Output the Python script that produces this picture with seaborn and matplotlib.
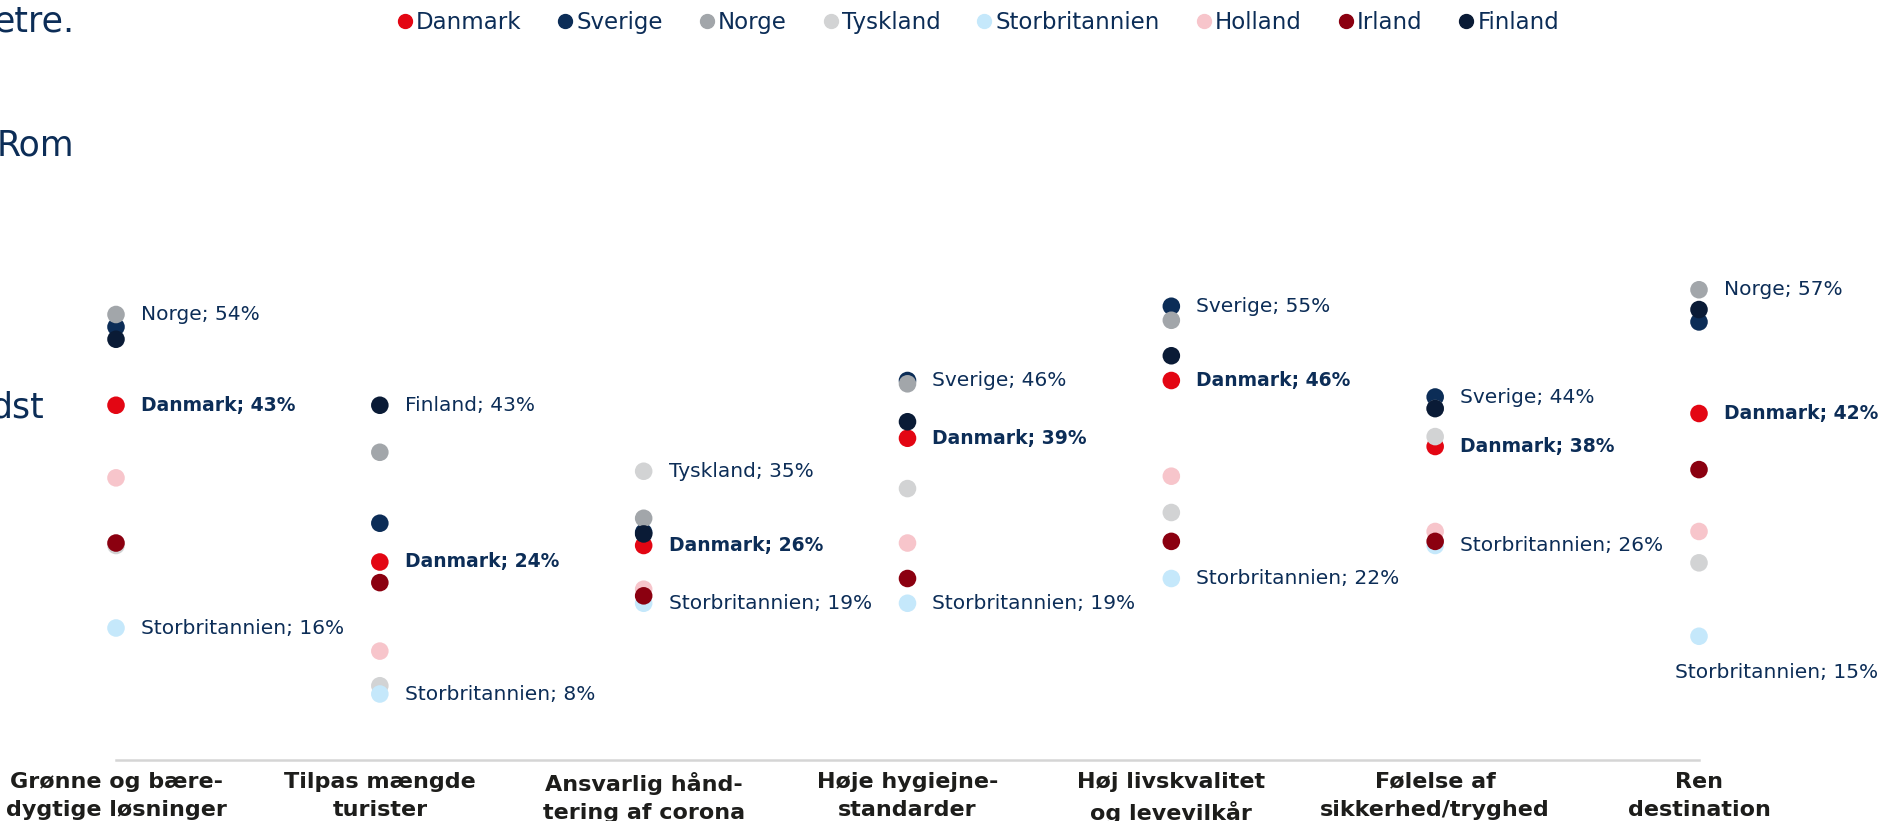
import numpy as np
import pandas as pd
import matplotlib
matplotlib.use("Agg")
import matplotlib.pyplot as plt
import seaborn as sns

# ------------------------------------------------------------
# DATA (% of respondents)
# ------------------------------------------------------------
kategorier = [
    "Grønne og bære-\ndygtige løsninger",
    "Tilpas mængde\nturister",
    "Ansvarlig hånd-\ntering af corona",
    "Høje hygiejne-\nstandarder",
    "Høj livskvalitet\nog levevilkår",
    "Følelse af\nsikkerhed/tryghed",
    "Ren\ndestination",
]
lande = ["Danmark", "Sverige", "Norge", "Tyskland",
         "Storbritannien", "Holland", "Irland", "Finland"]

danmark        = [43, 24, 26, 39, 46, 38, 42]
sverige        = [52.5, 28.7, 27.6, 46, 55, 44, 53.1]
norge          = [54, 37.3, 29.3, 45.6, 53.3, 42.6, 57]
tyskland       = [26.0, 9.0, 35, 32.9, 30.0, 39.2, 23.9]
storbritannien = [16, 8, 19, 19, 22, 26, 15]
holland        = [34.2, 13.2, 20.7, 26.3, 34.4, 27.7, 27.7]
irland         = [26.3, 21.5, 19.9, 22.0, 26.5, 26.5, 35.2]
finland        = [51.0, 43, 27.4, 41.0, 49.0, 42.6, 54.6]

farver = ["#e30613", "#0c2d57", "#a2a6aa", "#d2d3d4",
          "#c5e8fb", "#f7c5cb", "#8b0010", "#0a1b36"]

# which country gets the upper label in each category
labels_top = ["Norge", "Finland", "Tyskland", "Sverige", "Sverige", "Sverige", "Norge"]

# ------------------------------------------------------------
# BUILD DATAFRAME (draw order = legend order)
# ------------------------------------------------------------
vaerdier = [danmark, sverige, norge, tyskland, storbritannien, holland, irland, finland]
rows = []
for land, vals in zip(lande, vaerdier):
    for kat, v in zip(kategorier, vals):
        rows.append({"Land": land, "Kategori": kat, "Andel": v})
df = pd.DataFrame(rows)

NAVY = "#0c2d57"

plt.rcParams["font.family"] = ["DejaVu Sans"]
fig = plt.figure(figsize=(18.79, 8.21), dpi=100)
ax = fig.add_axes([116 / 1879, 61 / 821, (1699 - 116) / 1879, 660 / 821])

sns.scatterplot(data=df, x="Kategori", y="Andel", hue="Land", hue_order=lande,
                palette=dict(zip(lande, farver)), s=160, linewidth=0,
                ax=ax, clip_on=False, legend=False, zorder=3)

ax.set_xlim(0, len(kategorier) - 1)
ax.set_ylim(0, 80)
ax.set_xlabel("")
ax.set_ylabel("")
ax.set_yticks([])
for side in ["top", "left", "right"]:
    ax.spines[side].set_visible(False)
ax.spines["bottom"].set_color("#d5d5d5")
ax.spines["bottom"].set_linewidth(1.8)
ax.tick_params(axis="x", length=0, pad=8.5, labelsize=16, labelcolor="#1d1d1b")
for t in ax.get_xticklabels():
    t.set_fontweight("bold")
    t.set_multialignment("center")
    t.set_linespacing(1.5)

# data labels
lookup = df.set_index(["Land", "Kategori"])["Andel"]
for i, kat in enumerate(kategorier):
    v = lookup[(labels_top[i], kat)]
    ax.annotate(f"{labels_top[i]}; {v:.0f}%", (i, v), xytext=(25, 0),
                textcoords="offset pixels", va="center", ha="left",
                fontsize=14.5, color=NAVY)
    v = lookup[("Danmark", kat)]
    ax.annotate(f"Danmark; {v:.0f}%", (i, v), xytext=(25, 0),
                textcoords="offset pixels", va="center", ha="left",
                fontsize=13.5, color=NAVY, fontweight="bold",
                annotation_clip=False)
    v = lookup[("Storbritannien", kat)]
    if i == len(kategorier) - 1:
        ax.annotate(f"Storbritannien; {v:.0f}%", (i, v), xytext=(78, -36),
                    textcoords="offset pixels", va="center", ha="center",
                    fontsize=14.5, color=NAVY, annotation_clip=False)
    else:
        ax.annotate(f"Storbritannien; {v:.0f}%", (i, v), xytext=(25, 0),
                    textcoords="offset pixels", va="center", ha="left",
                    fontsize=14.5, color=NAVY)

# legend
handles = [plt.Line2D([], [], marker="o", linestyle="", color=c, markersize=10)
           for c in farver]
fig.legend(handles, lande, loc="center", bbox_to_anchor=(0.519, 0.972), ncol=8,
           frameon=False, handletextpad=-0.1, columnspacing=1.3, fontsize=16.5,
           labelcolor=NAVY, handlelength=1.2)

# text cut off from a neighbouring panel on the left
for txt, x, y in [("etre.", 74, 22), ("Rom", 74, 146), ("dst", 44, 407)]:
    fig.text(x / 1879, 1 - y / 821, txt, ha="right", va="center",
             fontsize=25, color=NAVY)

fig.savefig("out.png", dpi=100)
